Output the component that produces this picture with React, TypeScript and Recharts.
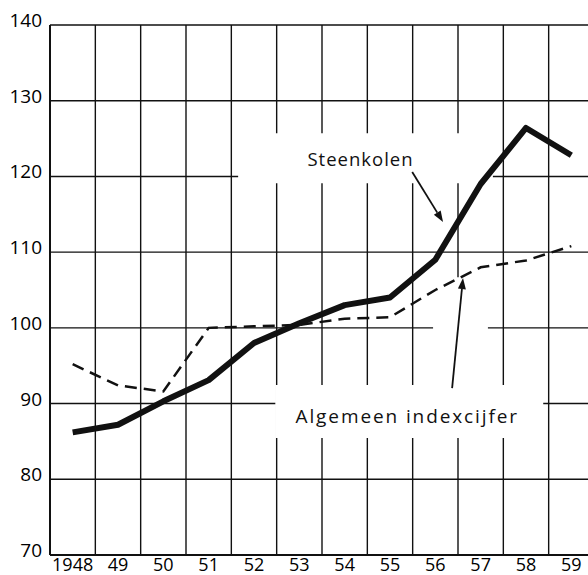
import React from "react";
import {
  LineChart,
  Line,
  XAxis,
  YAxis,
  CartesianGrid,
  ReferenceLine,
  ReferenceArea,
  Label,
} from "recharts";

const years = [1948, 1949, 1950, 1951, 1952, 1953, 1954, 1955, 1956, 1957, 1958, 1959];
const steenkolen = [86.2, 87.2, 90.3, 93.1, 98.0, 100.6, 103.0, 104.0, 109.0, 119.0, 126.4, 122.8];
const algemeen = [95.2, 92.4, 91.6, 100.0, 100.2, 100.4, 101.2, 101.4, 105.0, 108.0, 108.9, 110.8];
const yTicks = [70, 80, 90, 100, 110, 120, 130, 140];
// vertical rules sit between the years
const yearRules = [1948.5, 1949.5, 1950.5, 1951.5, 1952.5, 1953.5, 1954.5, 1955.5, 1956.5, 1957.5, 1958.5];

const data = years.map((year, i) => ({
  year,
  steenkolen: steenkolen[i],
  algemeen: algemeen[i],
}));

const font = "'Open Sans', 'DejaVu Sans', sans-serif";

const YTick = (props: any) => {
  const { x, y, payload } = props;
  return (
    <text x={x} y={y} dy={-5} textAnchor="end" dominantBaseline="central" fontSize={19} fontFamily={font} fill="#000">
      {payload.value}
    </text>
  );
};

const XTick = (props: any) => {
  const { x, y, payload } = props;
  const label = payload.value === 1948 ? "1948" : String(payload.value).slice(2);
  return (
    <text x={x} y={y} dy="0.71em" textAnchor="middle" fontSize={18} fontFamily={font} fill="#000">
      {label}
    </text>
  );
};

// line with an arrow head at (x2, y2)
const Arrow = (props: any) => {
  const { x1, y1, x2, y2 } = props;
  if ([x1, y1, x2, y2].some((v) => v == null || isNaN(v))) return null;
  const a = Math.atan2(y2 - y1, x2 - x1);
  const len = 11;
  const w = 4;
  const bx = x2 - len * Math.cos(a);
  const by = y2 - len * Math.sin(a);
  const p1 = `${bx + w * Math.sin(a)},${by - w * Math.cos(a)}`;
  const p2 = `${bx - w * Math.sin(a)},${by + w * Math.cos(a)}`;
  return (
    <g>
      <line x1={x1} y1={y1} x2={bx} y2={by} stroke="#111" strokeWidth={1.8} />
      <polygon points={`${x2},${y2} ${p1} ${p2}`} fill="#111" />
    </g>
  );
};

export default function App() {
  return (
    <div
      style={{
        position: "absolute",
        left: 0,
        top: 0,
        width: 588,
        height: 575,
        overflow: "hidden",
        background: "#fff",
      }}
    >
      <LineChart
        width={600}
        height={575}
        data={data}
        margin={{ top: 25, right: 6, bottom: 0, left: 0 }}
      >
        <CartesianGrid vertical={false} stroke="#111" strokeWidth={1.4} />
        <XAxis
          dataKey="year"
          type="number"
          domain={[1947.5, 1959.5]}
          allowDataOverflow
          ticks={years}
          tick={<XTick />}
          tickLine={false}
          tickSize={0}
          tickMargin={3}
          height={20}
          axisLine={{ stroke: "#111", strokeWidth: 2 }}
        />
        <YAxis
          domain={[70, 140]}
          allowDataOverflow
          ticks={yTicks}
          tick={<YTick />}
          tickLine={false}
          tickSize={0}
          tickMargin={8}
          width={50}
          axisLine={{ stroke: "#111", strokeWidth: 2 }}
        />
        {yearRules.map((x) => (
          <ReferenceLine key={x} x={x} stroke="#111" strokeWidth={1.4} zIndex={-90} />
        ))}
        <ReferenceArea x1={1951.65} x2={1957.27} y1={119.1} y2={125.7} fill="#fff" fillOpacity={1} stroke="none" zIndex={50}>
          <Label value="Steenkolen" position="center" dx={-5} dy={1} fontSize={18.5} fontFamily={font} fill="#111" letterSpacing={1} />
        </ReferenceArea>
        <ReferenceArea x1={1952.47} x2={1958.38} y1={85.45} y2={92.45} fill="#fff" fillOpacity={1} stroke="none" zIndex={50}>
          <Label value="Algemeen indexcijfer" position="center" dx={-2} dy={5} fontSize={19} fontFamily={font} fill="#111" letterSpacing={1.9} />
        </ReferenceArea>
        <ReferenceArea x1={1955.95} x2={1957.16} y1={92.45} y2={106.7} fill="#fff" fillOpacity={1} stroke="none" zIndex={50} />
        <Line
          dataKey="algemeen"
          stroke="#111"
          strokeWidth={2.5}
          strokeDasharray="12 7"
          dot={false}
          isAnimationActive={false}
        />
        <Line
          dataKey="steenkolen"
          stroke="#111"
          strokeWidth={6}
          strokeLinejoin="round"
          dot={false}
          isAnimationActive={false}
        />
        <ReferenceLine
          segment={[{ x: 1955.49, y: 120.58 }, { x: 1956.17, y: 113.98 }]}
          shape={<Arrow />}
          zIndex={450}
        />
        <ReferenceLine
          segment={[{ x: 1956.37, y: 92.05 }, { x: 1956.61, y: 106.58 }]}
          shape={<Arrow />}
          zIndex={450}
        />
      </LineChart>
    </div>
  );
}
